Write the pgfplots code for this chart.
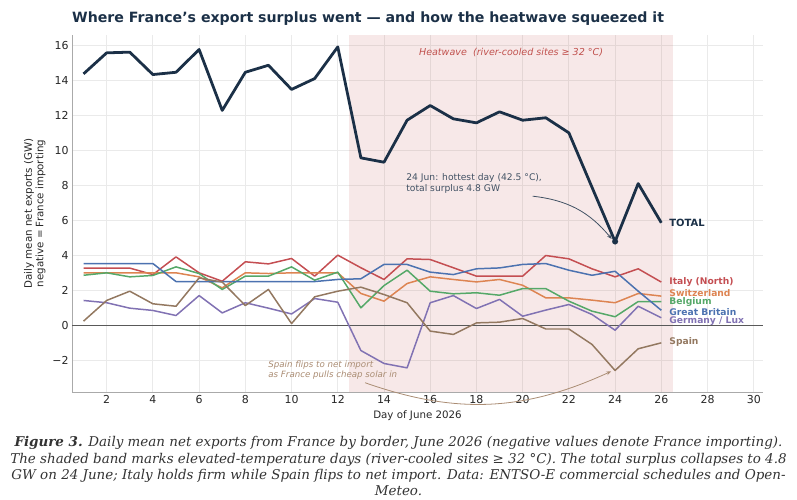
\documentclass[border=0pt]{standalone}
\usepackage{fontspec}
\setmainfont{DejaVu Sans}
\newfontfamily\capfont{DejaVu Serif}
\usepackage{pgfplots}
\pgfplotsset{compat=1.18}
\usetikzlibrary{arrows.meta}
\definecolor{navy}{RGB}{27,48,71}
\definecolor{cred}{RGB}{196,78,82}
\definecolor{corange}{RGB}{221,132,82}
\definecolor{cgreen}{RGB}{85,168,104}
\definecolor{cblue}{RGB}{76,114,176}
\definecolor{cpurple}{RGB}{129,114,179}
\definecolor{cbrown}{RGB}{147,120,96}
\definecolor{gridc}{RGB}{234,234,234}
\definecolor{spinec}{RGB}{170,170,170}
\definecolor{annc}{RGB}{66,82,100}
\definecolor{spainann}{RGB}{170,140,115}
\definecolor{hwred}{RGB}{192,80,77}
\definecolor{capc}{RGB}{51,51,51}
\begin{document}
\begin{tikzpicture}
\useasboundingbox (0,0) rectangle (797bp,500bp);
\node[anchor=base west, inner sep=0pt, font=\bfseries\fontsize{14.2}{17}\selectfont, text=navy] at (72bp,477bp) {Where France’s export surplus went — and how the heatwave squeezed it};
\begin{axis}[
  at={(72bp,108bp)}, anchor=south west,
  width=691bp, height=357bp, scale only axis,
  xmin=0.5, xmax=30.4, ymin=-3.8, ymax=16.6,
  xtick={2,4,...,30},
  ytick={-2,0,2,4,6,8,10,12,14,16},
  yticklabels={−2,0,2,4,6,8,10,12,14,16},
  /pgf/number format/assume math mode=true,
  grid=major, grid style={gridc, line width=0.8pt},
  axis x line*=bottom, axis y line*=left,
  axis line style={spinec, line width=0.8pt},
  major tick length=0pt,
  tick label style={font=\fontsize{11}{13}\selectfont, text=black!85},
  xlabel={Day of June 2026},
  ylabel={Daily mean net exports (GW)\\negative = France importing},
  label style={font=\fontsize{10.3}{11.6}\selectfont, text=black!85},
  ylabel style={align=center},
  clip=false,
]
\fill[hwred, fill opacity=0.13] (axis cs:12.5,-3.8) rectangle (axis cs:26.5,16.6);
\draw[black!65, line width=0.9pt] (axis cs:0.5,0) -- (axis cs:30.4,0);

% Italy (North)
\addplot[cred, line width=1.5pt, line join=round] coordinates {
(1,3.28) (2,3.28) (3,3.28) (4,2.91) (5,3.92) (6,3.01) (7,2.53) (8,3.64) (9,3.52) (10,3.83)
(11,2.82) (12,4.02) (13,3.30) (14,2.63) (15,3.81) (16,3.77) (17,3.30) (18,2.82) (19,2.82) (20,2.82)
(21,4.00) (22,3.81) (23,3.24) (24,2.78) (25,3.24) (26,2.48)};
% Switzerland
\addplot[corange, line width=1.5pt, line join=round] coordinates {
(1,3.01) (2,3.01) (3,3.01) (4,3.01) (5,3.01) (6,2.78) (7,2.15) (8,3.01) (9,2.97) (10,3.01)
(11,3.01) (12,3.01) (13,1.83) (14,1.39) (15,2.40) (16,2.78) (17,2.63) (18,2.49) (19,2.63) (20,2.30)
(21,1.58) (22,1.58) (23,1.45) (24,1.30) (25,1.83) (26,1.68)};
% Belgium
\addplot[cgreen, line width=1.5pt, line join=round] coordinates {
(1,2.87) (2,3.01) (3,2.78) (4,2.86) (5,3.35) (6,2.97) (7,2.06) (8,2.82) (9,2.82) (10,3.35)
(11,2.59) (12,3.05) (13,1.01) (14,2.28) (15,3.16) (16,1.96) (17,1.81) (18,1.87) (19,1.73) (20,2.11)
(21,2.11) (22,1.39) (23,0.82) (24,0.50) (25,1.37) (26,1.37)};
% Great Britain
\addplot[cblue, line width=1.5pt, line join=round] coordinates {
(1,3.54) (2,3.54) (3,3.54) (4,3.54) (5,2.51) (6,2.51) (7,2.51) (8,2.51) (9,2.51) (10,2.51)
(11,2.51) (12,2.63) (13,2.67) (14,3.49) (15,3.49) (16,3.05) (17,2.91) (18,3.24) (19,3.29) (20,3.49)
(21,3.54) (22,3.16) (23,2.87) (24,3.10) (25,1.96) (26,0.87)};
% Germany / Lux
\addplot[cpurple, line width=1.5pt, line join=round] coordinates {
(1,1.43) (2,1.30) (3,0.99) (4,0.86) (5,0.57) (6,1.71) (7,0.72) (8,1.30) (9,0.99) (10,0.66)
(11,1.54) (12,1.33) (13,-1.43) (14,-2.17) (15,-2.42) (16,1.30) (17,1.71) (18,0.97) (19,1.49) (20,0.53)
(21,0.88) (22,1.20) (23,0.63) (24,-0.27) (25,1.10) (26,0.44)};
% Spain
\addplot[cbrown, line width=1.5pt, line join=round] coordinates {
(1,0.25) (2,1.43) (3,1.96) (4,1.24) (5,1.10) (6,2.72) (7,2.48) (8,1.14) (9,2.06) (10,0.11)
(11,1.64) (12,1.96) (13,2.19) (14,1.77) (15,1.30) (16,-0.32) (17,-0.51) (18,0.15) (19,0.19) (20,0.40)
(21,-0.20) (22,-0.20) (23,-1.08) (24,-2.57) (25,-1.33) (26,-0.99)};
% TOTAL
\addplot[navy, line width=2.8pt, line join=round] coordinates {
(1,14.38) (2,15.58) (3,15.62) (4,14.34) (5,14.47) (6,15.77) (7,12.29) (8,14.47) (9,14.87) (10,13.49)
(11,14.11) (12,15.92) (13,9.58) (14,9.33) (15,11.73) (16,12.57) (17,11.81) (18,11.58) (19,12.21) (20,11.73)
(21,11.87) (22,11.01) (23,7.90) (24,4.80) (25,8.11) (26,5.87)};
\addplot[navy, only marks, mark=*, mark size=2.8pt] coordinates {(24,4.8)};

% labels
\node[anchor=west, inner sep=1pt, font=\bfseries\fontsize{10}{12}\selectfont, text=navy] at (axis cs:26.3,5.87) {TOTAL};
\node[anchor=west, inner sep=1pt, font=\bfseries\fontsize{9.2}{10}\selectfont, text=cred] at (axis cs:26.3,2.5) {Italy (North)};
\node[anchor=west, inner sep=1pt, font=\bfseries\fontsize{9.2}{10}\selectfont, text=corange] at (axis cs:26.3,1.87) {Switzerland};
\node[anchor=west, inner sep=1pt, font=\bfseries\fontsize{9.2}{10}\selectfont, text=cgreen] at (axis cs:26.3,1.37) {Belgium};
\node[anchor=west, inner sep=1pt, font=\bfseries\fontsize{9.2}{10}\selectfont, text=cblue] at (axis cs:26.3,0.79) {Great Britain};
\node[anchor=west, inner sep=1pt, font=\bfseries\fontsize{9.2}{10}\selectfont, text=cpurple] at (axis cs:26.3,0.26) {Germany / Lux};
\node[anchor=west, inner sep=1pt, font=\bfseries\fontsize{9.2}{10}\selectfont, text=cbrown] at (axis cs:26.3,-0.96) {Spain};

\node[font=\itshape\fontsize{9.6}{11}\selectfont, text=hwred] at (axis cs:19.5,15.58) {Heatwave\ \ (river-cooled sites ≥ 32 °C)};
\node[anchor=west, align=left, inner sep=0pt, font=\fontsize{9.2}{10.6}\selectfont, text=annc] at (axis cs:14.96,8.1) {24 Jun: hottest day (42.5 °C),\\total surplus 4.8 GW};
\draw[annc, line width=0.8pt, -{Stealth[length=5pt,width=4pt]}] (axis cs:20.43,7.39) to[bend left=22] (axis cs:23.85,4.95);
\node[anchor=west, align=left, inner sep=0pt, font=\itshape\fontsize{8.7}{10.2}\selectfont, text=spainann] at (axis cs:8.99,-2.57) {Spain flips to net import\\as France pulls cheap solar in};
\draw[spainann, line width=0.8pt, -{Stealth[length=5pt,width=4pt]}] (axis cs:13.18,-3.27) to[bend right=22] (axis cs:23.83,-2.62);
\end{axis}
\node[anchor=north, align=center, inner sep=0pt, font=\capfont\itshape\fontsize{13.5}{16.3}\selectfont, text=capc] at (398.5bp,63.5bp) {{\bfseries Figure 3.} Daily mean net exports from France by border, June 2026 (negative values denote France importing).\\The shaded band marks elevated-temperature days (river-cooled sites ≥ 32 °C). The total surplus collapses to 4.8\\GW on 24 June; Italy holds firm while Spain flips to net import. Data: ENTSO-E commercial schedules and Open-\\Meteo.};
\end{tikzpicture}
\end{document}
